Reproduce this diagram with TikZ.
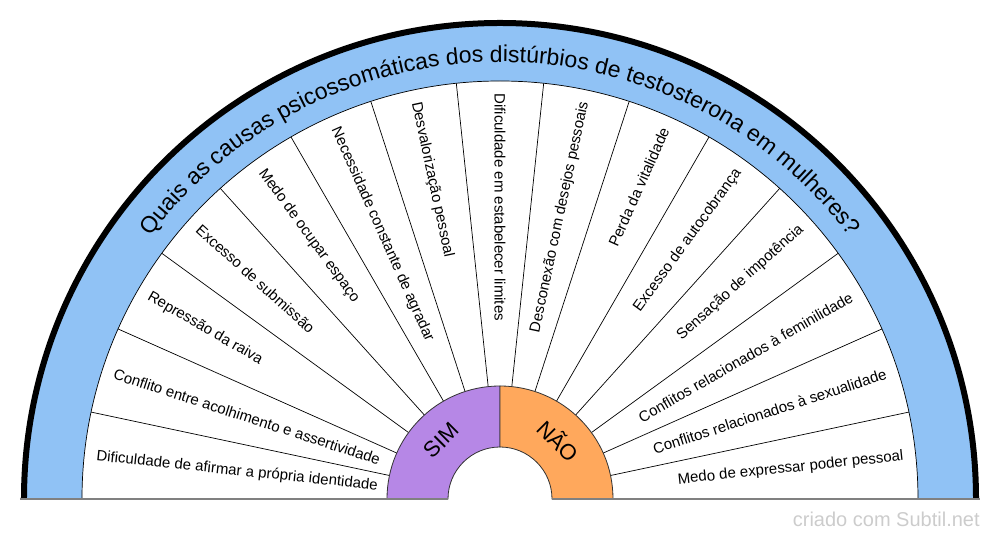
\documentclass[tikz,border=0pt]{standalone}
\usepackage{fontspec}
\setmainfont{Liberation Sans}
\usetikzlibrary{decorations.text}
\definecolor{azul}{HTML}{90C2F5}
\definecolor{roxo}{HTML}{B687E6}
\definecolor{laranja}{HTML}{FFA85C}
\definecolor{cinza}{HTML}{808080}
\definecolor{marca}{HTML}{CCCCCC}
\newcommand\fonttitulo{\fontsize{23}{23}\selectfont}

\begin{document}
\begin{tikzpicture}[x=1pt,y=1pt,line width=0.7pt,
  esq/.style={anchor=west,inner sep=0pt,font=\fontsize{15}{15}\selectfont},
  dir/.style={anchor=east,inner sep=0pt,font=\fontsize{15}{15}\selectfont},
  anel/.style={draw=black!80,line width=0.8pt}]

  \useasboundingbox (-500,-41) rectangle (500,499);

  % faixa do titulo
  \fill[azul] (0:476) arc[start angle=0,end angle=180,radius=476] -- (180:418)
    arc[start angle=180,end angle=0,radius=418] -- cycle;
  \draw[line width=6pt] (0:476) arc[start angle=0,end angle=180,radius=476];
  \draw (0:418) arc[start angle=0,end angle=180,radius=418];
  \path[decorate,decoration={text along path,text align=center,
    text={|\fonttitulo|Quais as causas psicossomáticas dos distúrbios de testosterona em mulheres?}}]
    (144:437) arc[start angle=144,end angle=36,radius=437];

  % divisoes
  \draw (12:113) -- (12:418);
  \draw (24:113) -- (24:418);
  \draw (36:113) -- (36:418);
  \draw (48:113) -- (48:418);
  \draw (60:113) -- (60:418);
  \draw (72:113) -- (72:418);
  \draw (84:113) -- (84:418);
  \draw (96:113) -- (96:418);
  \draw (108:113) -- (108:418);
  \draw (120:113) -- (120:418);
  \draw (132:113) -- (132:418);
  \draw (144:113) -- (144:418);
  \draw (156:113) -- (156:418);
  \draw (168:113) -- (168:418);

  % SIM / NAO
  \draw[anel,fill=roxo] (90:52) -- (90:113) arc[start angle=90,end angle=180,radius=113]
    -- (180:52) arc[start angle=180,end angle=90,radius=52] -- cycle;
  \draw[anel,fill=laranja] (0:52) -- (0:113) arc[start angle=0,end angle=90,radius=113]
    -- (90:52) arc[start angle=90,end angle=0,radius=52] -- cycle;
  \node[rotate=45,font=\fontsize{22}{22}\selectfont] (sim) at (135:83) {SIM};
  \node[rotate=-45,font=\fontsize{22}{22}\selectfont] (nao) at (45:83) {NÃO};

  \draw[cinza,line width=2pt] (-480,0) -- (-52,0);
  \draw[cinza,line width=2pt] (52,0) -- (480,0);

  % causas
  \node[esq,rotate=-6] (c1) at (174:406) {Dificuldade de afirmar a própria identidade};
  \node[esq,rotate=-18] (c2) at (162:406) {Conflito entre acolhimento e assertividade};
  \node[esq,rotate=-30] (c3) at (150:406) {Repressão da raiva};
  \node[esq,rotate=-42] (c4) at (138:406) {Excesso de submissão};
  \node[esq,rotate=-54] (c5) at (126:406) {Medo de ocupar espaço};
  \node[esq,rotate=-66] (c6) at (114:406) {Necessidade constante de agradar};
  \node[esq,rotate=-78] (c7) at (102:406) {Desvalorização pessoal};
  \node[esq,rotate=-90] (c8) at (90:406) {Dificuldade em estabelecer limites};
  \node[dir,rotate=78] (c9) at (78:406) {Desconexão com desejos pessoais};
  \node[dir,rotate=66] (c10) at (66:406) {Perda da vitalidade};
  \node[dir,rotate=54] (c11) at (54:406) {Excesso de autocobrança};
  \node[dir,rotate=42] (c12) at (42:406) {Sensação de impotência};
  \node[dir,rotate=30] (c13) at (30:406) {Conflitos relacionados à feminilidade};
  \node[dir,rotate=18] (c14) at (18:406) {Conflitos relacionados à sexualidade};
  \node[dir,rotate=6] (c15) at (6:406) {Medo de expressar poder pessoal};

  \node[anchor=east,inner sep=0pt,text=marca,font=\fontsize{20}{20}\selectfont] (credito) at (480,-20) {criado com Subtil.net};

\end{tikzpicture}
\end{document}
